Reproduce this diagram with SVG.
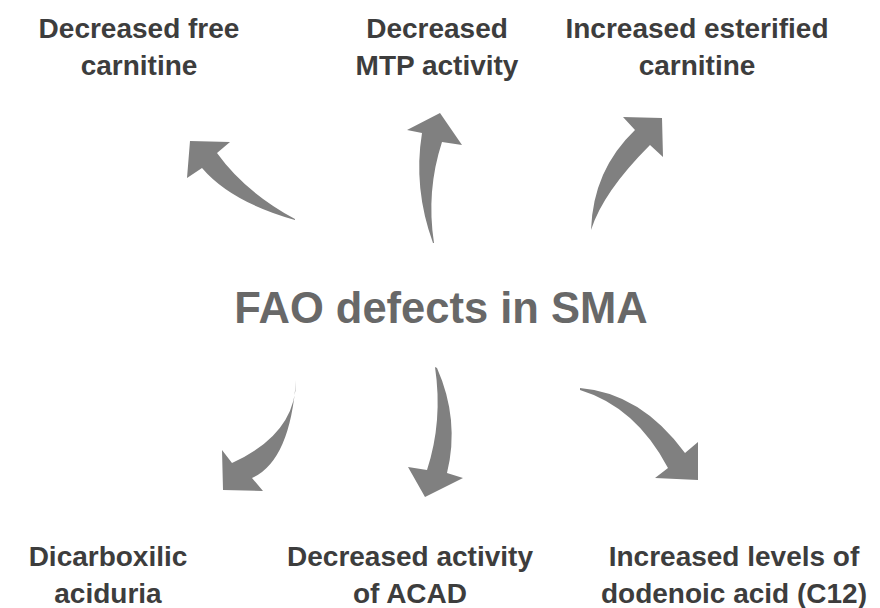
<svg xmlns="http://www.w3.org/2000/svg" width="880" height="608" viewBox="0 0 880 608">
<style>
.lbl{font-family:"Liberation Sans",Arial,sans-serif;font-weight:bold;font-size:28px;fill:#3d3d3d;text-anchor:middle}
.main{font-family:"Liberation Sans",Arial,sans-serif;font-weight:bold;font-size:43.5px;fill:#686868;text-anchor:middle}
.arr{fill:#808080;stroke:none}
</style>
<rect width="880" height="608" fill="#ffffff"/>
<g id="center"><text class="main" x="441" y="323">FAO defects in SMA</text></g>
<g id="n-free-carnitine"><text class="lbl" x="139" y="38">Decreased free</text><text class="lbl" x="139" y="75">carnitine</text></g>
<g id="n-mtp"><text class="lbl" x="437" y="38">Decreased</text><text class="lbl" x="437" y="75">MTP activity</text></g>
<g id="n-esterified"><text class="lbl" x="697" y="38">Increased esterified</text><text class="lbl" x="697" y="75">carnitine</text></g>
<g id="n-dicarboxilic"><text class="lbl" x="108" y="566">Dicarboxilic</text><text class="lbl" x="108" y="603">aciduria</text></g>
<g id="n-acad"><text class="lbl" x="410" y="566">Decreased activity</text><text class="lbl" x="410" y="603">of ACAD</text></g>
<g id="n-c12"><text class="lbl" x="734" y="566">Increased levels of</text><text class="lbl" x="734" y="603">dodenoic acid (C12)</text></g>
<g id="connectors">
<path class="arr" d="M190,141 L230,142 L217,153 Q245,192 295,219 L295,220 Q231,202 202,168 L187,178 Z"/>
<path class="arr" d="M440,113 L462,145 L442,142 Q426,191 434,243 L433,243 Q413,188 422,133 L407,130 Z"/>
<path class="arr" d="M662,118 L663,157 L650,145 Q603,192 591,230 Q593,170 635,130 L623,117 Z"/>
<path class="arr" d="M296,380 Q296,434 232,463 L222,450 L223,490 L263,491 L252,478 Q290,461 296,380 Z"/>
<path class="arr" d="M435,367 Q443,421 427,470 L408,467 L425,497 L463,478 L447,473 Q460,420 437,368 Z"/>
<path class="arr" d="M580,388 Q641,393 685,453 L698,442 L698,480 L655,478 L668,468 Q636,407 580,390 Z"/>
</g>
</svg>
